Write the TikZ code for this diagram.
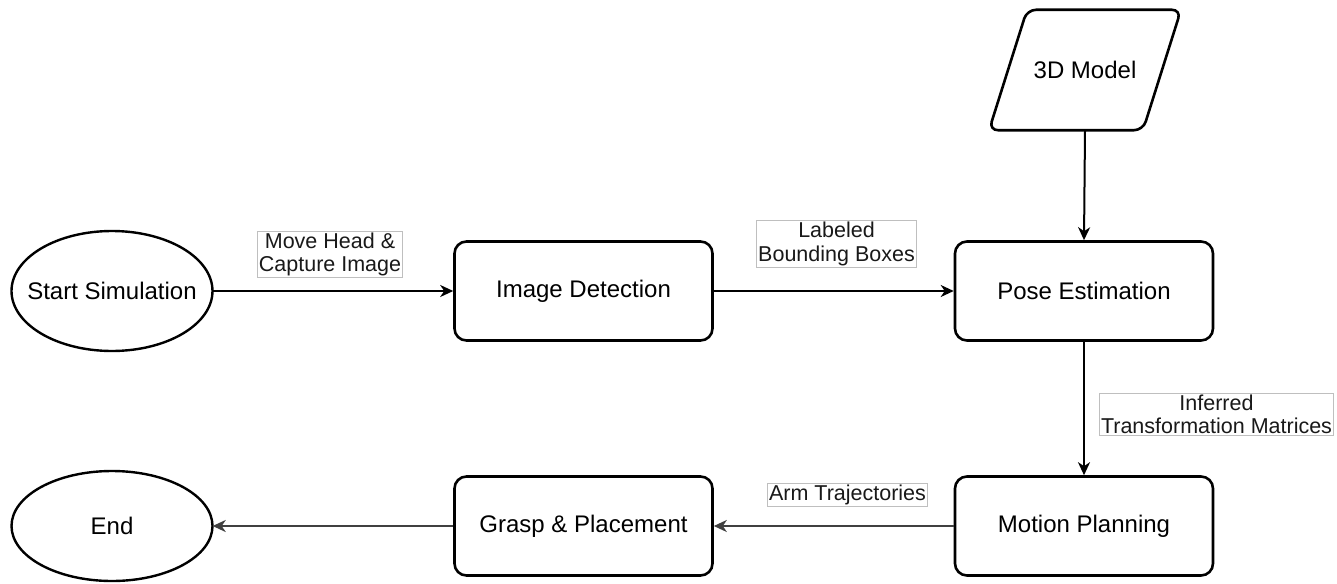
\documentclass[tikz,border=0pt]{standalone}
\usepackage{fontspec}
\setmainfont{Liberation Sans}
\usetikzlibrary{arrows.meta,shapes.geometric,calc}
\begin{document}
\begin{tikzpicture}[x=1pt,y=-1pt,
  proc/.style={draw, line width=2.6pt, rounded corners=12pt, minimum width=258pt, minimum height=99pt, font=\fontsize{24}{28}\selectfont, inner sep=0pt},
  term/.style={minimum width=201pt, font=\fontsize{24}{28}\selectfont, inner sep=0pt},
  termline/.style={line width=2.4pt},
  lab/.style={draw=black!25, fill=white, line width=0.8pt, inner sep=1.5pt, align=center, font=\fontsize{21.5}{23.5}\selectfont, text=black!90},
  conn/.style={line width=2pt, -{Stealth[length=13pt,width=12pt,inset=4pt]}},
  connb/.style={conn, draw=black!75}
]
\useasboundingbox (0,0) rectangle (1337,583);

\node[term, minimum height=120pt] (start) at (112,291) {Start Simulation};
\draw[termline] (start.center) ellipse [x radius=100.5pt, y radius=60pt];
\node[proc] (detect) at (583.5,291) {Image Detection};
\node[proc] (pose) at (1084,291) {Pose Estimation};
\node[proc] (motion) at (1084,526) {Motion Planning};
\node[proc] (grasp) at (583.5,526) {Grasp \& Placement};
\node[term, minimum height=110pt] (end) at (112,526) {End};
\draw[termline] (end.center) ellipse [x radius=100.5pt, y radius=55pt];

\node[minimum width=154pt, minimum height=120pt, inner sep=0pt, font=\fontsize{24}{28}\selectfont] (model) at (1085,70) {3D Model};
\draw[line width=2.6pt, rounded corners=9pt]
  ([xshift=-58pt]model.north) -- ([xshift=96pt]model.north) --
  ([xshift=58pt]model.south) -- ([xshift=-96pt]model.south) -- cycle;

\node[lab] (l1) at (330,254.5) {Move Head \&\\Capture Image};
\node[lab] (l2) at (836.5,244) {Labeled\\Bounding Boxes};
\node[lab] (l3) at (1216.5,414.5) {Inferred\\Transformation Matrices};
\node[lab] (l4) at (847.5,495) {Arm Trajectories};

\draw[conn] (start) -- (detect);
\draw[conn] (detect) -- (pose);
\draw[conn] (model.south) -- (pose.north);
\draw[conn] (pose) -- (motion);
\draw[connb] (motion) -- (grasp);
\draw[connb] (grasp) -- (end);
\end{tikzpicture}
\end{document}
